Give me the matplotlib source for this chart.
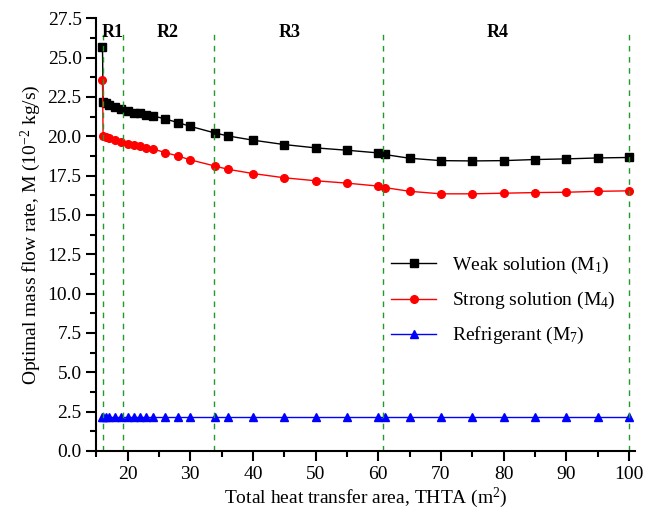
import matplotlib
matplotlib.use("Agg")
import matplotlib.pyplot as plt
from matplotlib.ticker import MultipleLocator

plt.rcParams['font.family'] = ['Liberation Serif', 'DejaVu Serif']
plt.rcParams['mathtext.fontset'] = 'custom'
plt.rcParams['mathtext.rm'] = 'Liberation Serif'
plt.rcParams['mathtext.it'] = 'Liberation Serif:italic'

# Total heat transfer area (m^2)
area = [16, 16.1, 16.5, 17, 18, 19, 20, 21, 22, 23, 24, 26, 28, 30, 34, 36,
        40, 45, 50, 55, 60, 61, 65, 70, 75, 80, 85, 90, 95, 100]
# Mass flow rates (10^-2 kg/s)
weak = [25.7, 22.2, 22.12, 22.0, 21.84, 21.7, 21.6, 21.5, 21.46, 21.37, 21.3,
        21.1, 20.87, 20.63, 20.2, 20.02, 19.75, 19.47, 19.26, 19.11, 18.94,
        18.84, 18.6, 18.45, 18.43, 18.45, 18.52, 18.56, 18.62, 18.65]
strong = [23.55, 20.04, 19.96, 19.9, 19.75, 19.66, 19.53, 19.45, 19.37, 19.28,
          19.2, 18.96, 18.75, 18.5, 18.1, 17.9, 17.63, 17.36, 17.17, 17.02,
          16.83, 16.74, 16.5, 16.34, 16.34, 16.38, 16.42, 16.44, 16.5, 16.53]
refrig = [2.15] * len(area)

# region borders and labels
borders = [16.1, 19.2, 33.8, 60.8, 100]
regions = ['R1', 'R2', 'R3', 'R4']
region_x = [17.6, 26.4, 45.9, 79.1]

fig = plt.figure(figsize=(6.59, 5.14), dpi=100)
ax = fig.add_axes([0.146, 0.1226, 0.818, 0.842])

ax.plot(area, weak, 's-', color='black', ms=5.5, lw=1, label='Weak solution (M$_1$)')
ax.plot(area, strong, 'o-', color='red', ms=5.5, lw=1, label='Strong solution (M$_4$)')
ax.plot(area, refrig, '^-', color='blue', ms=6, lw=1, label='Refrigerant (M$_7$)')

ax.vlines(borders, 0, 26.6, colors='#22992a', linestyles=(0, (4, 4)), lw=1)
for name, xr in zip(regions, region_x):
    ax.text(xr, 26.6, name, ha='center', va='center', fontsize=13, fontweight='bold')

ax.set_xlim(15, 101)
ax.set_ylim(0, 27.5)
ax.xaxis.set_major_locator(MultipleLocator(10))
ax.xaxis.set_minor_locator(MultipleLocator(5))
ax.yaxis.set_major_locator(MultipleLocator(2.5))
ax.yaxis.set_minor_locator(MultipleLocator(1.25))
ax.yaxis.set_major_formatter(plt.FormatStrFormatter('%.1f'))
ax.set_xticks([20, 30, 40, 50, 60, 70, 80, 90, 100])

for s in ['top', 'right']:
    ax.spines[s].set_visible(False)
for s in ['left', 'bottom']:
    ax.spines[s].set_linewidth(1.5)
ax.tick_params(which='major', length=7, width=1.5, labelsize=14, direction='out')
ax.tick_params(which='minor', length=4, width=1.5, direction='out')

ax.set_xlabel('Total heat transfer area, THTA (m$^2$)', fontsize=14, labelpad=2)
ax.set_ylabel('Optimal mass flow rate, M (10$^{-2}$ kg/s)', fontsize=14, labelpad=3)

ax.legend(loc='center left', bbox_to_anchor=(0.515, 0.347), frameon=False, fontsize=14,
          handlelength=2.3, labelspacing=0.72)

fig.savefig('out.png', dpi=100)
